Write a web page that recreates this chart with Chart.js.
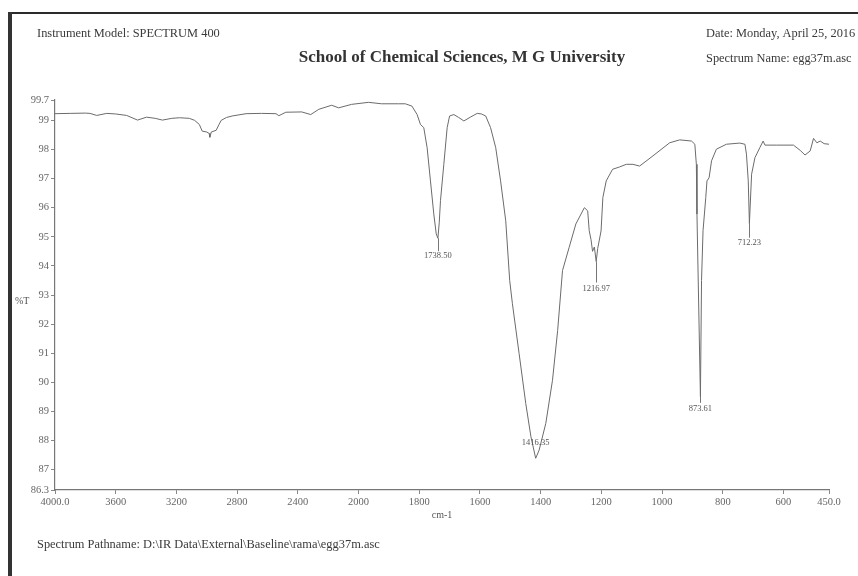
<!DOCTYPE html>
<html>
<head>
<meta charset="utf-8">
<script src="https://cdn.jsdelivr.net/npm/chart.js@4.4.0/dist/chart.umd.min.js"></script>
<style>
  html, body { margin: 0; padding: 0; background: #fff; }
  #wrap { position: relative; width: 858px; height: 576px; }
</style>
</head>
<body>
<div id="wrap"><canvas id="spectrum" width="858" height="576"></canvas></div>
<script>
// IR spectrum of sample egg37m (wavenumber in cm-1, transmittance in %T)
const wavenumbers = [
  4000, 3900, 3800, 3770, 3725, 3659, 3600, 3528, 3456, 3397, 3340, 3292, 3230, 3180, 3115, 3080,
  3049, 3030, 3000, 2984, 2980, 2970, 2938, 2920, 2905, 2870, 2833, 2741, 2640, 2544, 2525, 2479,
  2374, 2315, 2262, 2177, 2131, 2046, 1967, 1924, 1868, 1846, 1824, 1807, 1796, 1785, 1774, 1763,
  1752, 1744, 1738.50, 1734, 1730, 1719, 1708, 1700, 1686, 1670, 1653, 1630, 1609, 1595, 1581, 1565,
  1548, 1532, 1515, 1502, 1493, 1471, 1449, 1432, 1416.35, 1405, 1383, 1361, 1344, 1328, 1306, 1284,
  1256, 1245, 1240, 1234, 1229, 1223, 1216.97, 1212, 1201, 1195, 1184, 1163, 1140, 1118, 1096, 1074,
  1030, 975, 942, 903, 892, 887, 885, 873.61, 870, 865, 856, 852, 845, 837, 821, 788,
  744, 727, 722, 716, 712.23, 705, 694, 678, 667, 661, 622, 567, 545, 529, 512, 501,
  490, 479, 466, 450
];
const transmittance = [
  99.23, 99.24, 99.25, 99.24, 99.17, 99.24, 99.22, 99.17, 99.01, 99.11, 99.07, 99.01, 99.07, 99.09, 99.07, 99.00,
  98.86, 98.63, 98.60, 98.55, 98.42, 98.60, 98.66, 98.85, 99.00, 99.10, 99.15, 99.23, 99.24, 99.23, 99.16, 99.28,
  99.29, 99.20, 99.38, 99.52, 99.43, 99.55, 99.62, 99.57, 99.57, 99.57, 99.49, 99.20, 98.86, 98.75, 98.06, 96.92,
  95.78, 95.10, 94.95, 95.50, 96.24, 97.49, 98.75, 99.15, 99.20, 99.10, 98.98, 99.12, 99.24, 99.22, 99.15, 98.75,
  98.06, 96.92, 95.55, 93.50, 92.70, 90.99, 89.27, 88.13, 87.39, 87.67, 88.59, 90.07, 91.78, 93.84, 94.64, 95.44,
  96.00, 95.89, 95.21, 94.90, 94.50, 94.65, 94.15, 94.60, 95.20, 96.35, 96.92, 97.32, 97.40, 97.49, 97.49, 97.43,
  97.78, 98.23, 98.33, 98.29, 98.18, 97.49, 95.78, 89.50, 93.50, 95.21, 96.35, 96.92, 97.03, 97.61, 98.01, 98.18,
  98.22, 98.18, 97.84, 96.92, 95.45, 97.15, 97.72, 98.06, 98.29, 98.15, 98.15, 98.15, 97.97, 97.81, 97.95, 98.38,
  98.23, 98.29, 98.20, 98.18
];
const peakWavenumbers = [1738.50, 1416.35, 1216.97, 873.61, 712.23];
const xTickValues = [4000, 3600, 3200, 2800, 2400, 2000, 1800, 1600, 1400, 1200, 1000, 800, 600, 450];
const yTickValues = [86.3, 87, 88, 89, 90, 91, 92, 93, 94, 95, 96, 97, 98, 99, 99.7];

const SERIF = '"Liberation Serif", "DejaVu Serif", serif';
const SCALE_BREAK = 2000; // below this wavenumber the axis is expanded 2x

// Linear wavenumber axis whose region below SCALE_BREAK is drawn at double scale
class WavenumberScale extends Chart.LinearScale {
  static id = 'wavenumber';
  static defaults = Chart.LinearScale.defaults;
  _spans() {
    const low = (SCALE_BREAK - this.min) * 2;
    return { low, total: low + (this.max - SCALE_BREAK) };
  }
  getPixelForValue(value) {
    if (value === null || value === undefined || isNaN(value)) return NaN;
    const { low, total } = this._spans();
    const d = value <= SCALE_BREAK ? (value - this.min) * 2 / total : (low + value - SCALE_BREAK) / total;
    return this.getPixelForDecimal(d);
  }
  getValueForPixel(pixel) {
    const { low, total } = this._spans();
    const t = this.getDecimalForPixel(pixel) * total;
    return t <= low ? this.min + t / 2 : SCALE_BREAK + (t - low);
  }
}
Chart.register(WavenumberScale);

// Page frame, header / footer texts and axis names
const pageText = {
  id: 'pageText',
  afterDraw(chart) {
    const ctx = chart.ctx;
    const area = chart.chartArea;
    ctx.save();
    ctx.fillStyle = '#2a2a2a';
    ctx.fillRect(9, 12, 858 - 9, 2);
    ctx.fillStyle = '#333';
    ctx.fillRect(8, 12, 4, 576 - 12);

    ctx.textBaseline = 'middle';
    ctx.fillStyle = '#3a3a3a';
    ctx.font = '12.4px ' + SERIF;
    ctx.textAlign = 'left';
    ctx.fillText('Instrument Model: SPECTRUM 400', 37, 34);
    ctx.fillText('Date: Monday, April 25, 2016', 706, 34);
    ctx.fillText('Spectrum Name: egg37m.asc', 706, 59);
    ctx.fillText('Spectrum Pathname: D:\\IR Data\\External\\Baseline\\rama\\egg37m.asc', 37, 545);

    ctx.font = 'bold 17px ' + SERIF;
    ctx.textAlign = 'center';
    ctx.fillStyle = '#333';
    ctx.fillText('School of Chemical Sciences, M G University', 462, 58);

    ctx.font = '10px ' + SERIF;
    ctx.fillStyle = '#555';
    ctx.fillText('cm-1', (area.left + area.right) / 2, 515);
    ctx.textAlign = 'left';
    ctx.fillText('%T', 15, 301);
    ctx.restore();
  }
};

// Peak position markers: short drop line and wavenumber label
const peakLabels = {
  id: 'peakLabels',
  afterDatasetsDraw(chart, args, opts) {
    const ctx = chart.ctx;
    const xs = chart.scales.x, ys = chart.scales.y;
    ctx.save();
    ctx.font = '8.5px ' + SERIF;
    ctx.fillStyle = '#555';
    ctx.strokeStyle = '#777';
    ctx.lineWidth = 1;
    ctx.textAlign = 'center';
    ctx.textBaseline = 'middle';
    peakWavenumbers.forEach((w, k) => {
      const i = wavenumbers.indexOf(w);
      const px = xs.getPixelForValue(w);
      const py = ys.getPixelForValue(transmittance[i]);
      const o = opts.offsets[k];
      if (o.line > 0) {
        ctx.beginPath();
        ctx.moveTo(Math.round(px) + 0.5, py);
        ctx.lineTo(Math.round(px) + 0.5, py + o.line);
        ctx.stroke();
      }
      ctx.fillText(w.toFixed(2), px, py + o.text);
    });
    ctx.restore();
  }
};

const tickFont = { family: SERIF, size: 10.5 };

new Chart(document.getElementById('spectrum'), {
  type: 'line',
  data: {
    datasets: [{
      data: wavenumbers.map((w, i) => ({ x: w, y: transmittance[i] })),
      borderColor: '#6b6b6b',
      borderWidth: 1,
      pointRadius: 0,
      tension: 0,
      fill: false
    }]
  },
  options: {
    responsive: false,
    animation: false,
    layout: { padding: { top: 100, right: 29, bottom: 0, left: 0 } },
    plugins: {
      legend: { display: false },
      tooltip: { enabled: false },
      peakLabels: {
        offsets: [
          { line: 13, text: 18 },
          { line: 0, text: -16 },
          { line: 21, text: 27 },
          { line: 6, text: 12 },
          { line: 14, text: 19 }
        ]
      }
    },
    scales: {
      x: {
        type: 'wavenumber',
        reverse: true,
        min: 450,
        max: 4000,
        afterBuildTicks: s => { s.ticks = xTickValues.map(v => ({ value: v })); },
        afterFit: s => { s.height = 86; },
        ticks: {
          autoSkip: false,
          maxRotation: 0,
          color: '#666',
          font: tickFont,
          padding: 2,
          callback: v => (v === 4000 || v === 450) ? v.toFixed(1) : String(v)
        },
        grid: { display: true, drawOnChartArea: false, drawTicks: true, tickLength: 4, color: '#888' },
        border: { display: true, color: '#777', width: 1.2 }
      },
      y: {
        type: 'linear',
        min: 86.3,
        max: 99.7,
        afterBuildTicks: s => { s.ticks = yTickValues.map(v => ({ value: v })); },
        afterFit: s => { s.width = 55; },
        ticks: {
          autoSkip: false,
          color: '#666',
          font: tickFont,
          padding: 2,
          callback: v => String(v)
        },
        grid: { display: true, drawOnChartArea: false, drawTicks: true, tickLength: 4, color: '#888' },
        border: { display: true, color: '#777', width: 1.2 }
      }
    }
  },
  plugins: [pageText, peakLabels]
});
</script>
</body>
</html>
